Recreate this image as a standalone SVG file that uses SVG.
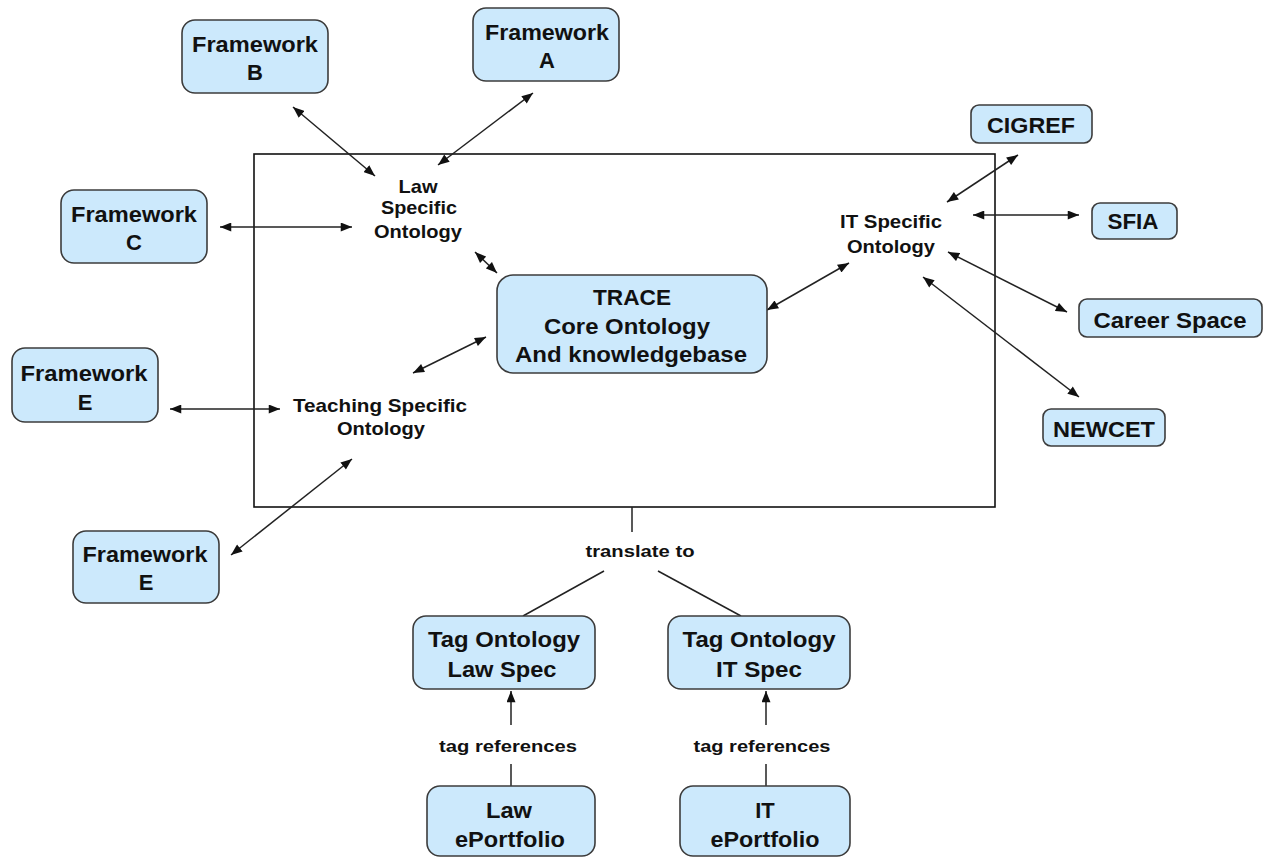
<svg xmlns="http://www.w3.org/2000/svg" width="1264" height="859" viewBox="0 0 1264 859">
<style>
.box{fill:#cce9fc;stroke:#3c3c3c;stroke-width:1.6}
.frame{fill:none;stroke:#111;stroke-width:1.6}
.t{font-family:"Liberation Sans",Arial,sans-serif;font-weight:bold;fill:#111;text-anchor:middle}
.bt{font-size:22px}
.it{font-size:19px}
.lt{font-size:17px}
.c line{stroke:#222;stroke-width:1.5}
.arr{marker-start:url(#ah);marker-end:url(#ah)}
.one{marker-end:url(#ah)}
</style>
<defs>
<marker id="ah" viewBox="0 0 10 8" refX="10" refY="4" markerWidth="12" markerHeight="9" markerUnits="userSpaceOnUse" orient="auto-start-reverse">
<path d="M0,0 L10,4 L0,8 z" fill="#111"/>
</marker>
</defs>
<rect width="1264" height="859" fill="#fff"/>
<rect id="core-frame" class="frame" x="254" y="154" width="741" height="353"/>

<g id="connectors" class="c">
<line class="arr" x1="293" y1="107" x2="375" y2="176"/>
<line class="arr" x1="533" y1="93" x2="438" y2="165"/>
<line class="arr" x1="220" y1="227" x2="352" y2="227"/>
<line class="arr" x1="475" y1="252" x2="497" y2="273"/>
<line class="arr" x1="413" y1="373" x2="486" y2="337"/>
<line class="arr" x1="170" y1="409" x2="280" y2="409"/>
<line class="arr" x1="231" y1="555" x2="352" y2="459"/>
<line class="arr" x1="767" y1="310" x2="849" y2="263"/>
<line class="arr" x1="1018" y1="155" x2="947" y2="202"/>
<line class="arr" x1="973" y1="215" x2="1079" y2="215"/>
<line class="arr" x1="948" y1="252" x2="1067" y2="312"/>
<line class="arr" x1="923" y1="277" x2="1079" y2="397"/>
<line x1="632" y1="507" x2="632" y2="532"/>
<line x1="604" y1="571" x2="523" y2="616"/>
<line x1="658" y1="571" x2="741" y2="616"/>
<line class="one" x1="511" y1="725" x2="511" y2="691"/>
<line x1="511" y1="764" x2="511" y2="786"/>
<line class="one" x1="766" y1="725" x2="766" y2="691"/>
<line x1="766" y1="764" x2="766" y2="786"/>
</g>

<g id="framework-b"><rect class="box" x="182" y="20" width="146" height="73" rx="13"/>
<text class="t bt" x="255" y="52" textLength="126" lengthAdjust="spacingAndGlyphs">Framework</text>
<text class="t bt" x="255" y="80">B</text></g>

<g id="framework-a"><rect class="box" x="473" y="8" width="146" height="73" rx="13"/>
<text class="t bt" x="547" y="40" textLength="124" lengthAdjust="spacingAndGlyphs">Framework</text>
<text class="t bt" x="547" y="68">A</text></g>

<g id="framework-c"><rect class="box" x="61" y="190" width="146" height="73" rx="13"/>
<text class="t bt" x="134" y="222" textLength="126" lengthAdjust="spacingAndGlyphs">Framework</text>
<text class="t bt" x="134" y="250">C</text></g>

<g id="framework-e1"><rect class="box" x="12" y="348" width="146" height="74" rx="13"/>
<text class="t bt" x="84" y="381" textLength="127" lengthAdjust="spacingAndGlyphs">Framework</text>
<text class="t bt" x="85" y="410">E</text></g>

<g id="framework-e2"><rect class="box" x="73" y="531" width="146" height="72" rx="13"/>
<text class="t bt" x="145" y="562" textLength="125" lengthAdjust="spacingAndGlyphs">Framework</text>
<text class="t bt" x="146" y="590">E</text></g>

<g id="law-ontology">
<text class="t it" x="418" y="193" textLength="39" lengthAdjust="spacingAndGlyphs">Law</text>
<text class="t it" x="419" y="214" textLength="76" lengthAdjust="spacingAndGlyphs">Specific</text>
<text class="t it" x="418" y="238" textLength="88" lengthAdjust="spacingAndGlyphs">Ontology</text>
</g>

<g id="teaching-ontology">
<text class="t it" x="380" y="412" textLength="174" lengthAdjust="spacingAndGlyphs">Teaching Specific</text>
<text class="t it" x="381" y="435" textLength="88" lengthAdjust="spacingAndGlyphs">Ontology</text>
</g>

<g id="it-ontology">
<text class="t it" x="891" y="228" textLength="102" lengthAdjust="spacingAndGlyphs">IT Specific</text>
<text class="t it" x="891" y="253" textLength="88" lengthAdjust="spacingAndGlyphs">Ontology</text>
</g>

<g id="trace"><rect class="box" x="497" y="275" width="270" height="98" rx="16"/>
<text class="t bt" x="632" y="305" textLength="78" lengthAdjust="spacingAndGlyphs">TRACE</text>
<text class="t bt" x="627" y="334" textLength="166" lengthAdjust="spacingAndGlyphs">Core Ontology</text>
<text class="t bt" x="631" y="362" textLength="232" lengthAdjust="spacingAndGlyphs">And knowledgebase</text></g>

<g id="cigref"><rect class="box" x="971" y="105" width="121" height="38" rx="8"/>
<text class="t bt" x="1031" y="133" textLength="88" lengthAdjust="spacingAndGlyphs">CIGREF</text></g>

<g id="sfia"><rect class="box" x="1092" y="203" width="85" height="36" rx="8"/>
<text class="t bt" x="1133" y="229" textLength="51" lengthAdjust="spacingAndGlyphs">SFIA</text></g>

<g id="career-space"><rect class="box" x="1079" y="299" width="183" height="38" rx="8"/>
<text class="t bt" x="1170" y="328" textLength="153" lengthAdjust="spacingAndGlyphs">Career Space</text></g>

<g id="newcet"><rect class="box" x="1043" y="409" width="122" height="37" rx="8"/>
<text class="t bt" x="1104" y="437" textLength="102" lengthAdjust="spacingAndGlyphs">NEWCET</text></g>

<g id="translate-label"><text class="t lt" x="640" y="557" textLength="109" lengthAdjust="spacingAndGlyphs">translate to</text></g>

<g id="tag-law"><rect class="box" x="413" y="616" width="182" height="73" rx="13"/>
<text class="t bt" x="504" y="647" textLength="152" lengthAdjust="spacingAndGlyphs">Tag Ontology</text>
<text class="t bt" x="502" y="677" textLength="109" lengthAdjust="spacingAndGlyphs">Law Spec</text></g>

<g id="tag-it"><rect class="box" x="668" y="616" width="182" height="73" rx="13"/>
<text class="t bt" x="759" y="647" textLength="153" lengthAdjust="spacingAndGlyphs">Tag Ontology</text>
<text class="t bt" x="759" y="677" textLength="86" lengthAdjust="spacingAndGlyphs">IT Spec</text></g>

<g id="tag-ref-law"><text class="t lt" x="508" y="752" textLength="138" lengthAdjust="spacingAndGlyphs">tag references</text></g>
<g id="tag-ref-it"><text class="t lt" x="762" y="752" textLength="137" lengthAdjust="spacingAndGlyphs">tag references</text></g>

<g id="law-eportfolio"><rect class="box" x="427" y="786" width="168" height="70" rx="13"/>
<text class="t bt" x="509" y="818" textLength="46" lengthAdjust="spacingAndGlyphs">Law</text>
<text class="t bt" x="510" y="847" textLength="110" lengthAdjust="spacingAndGlyphs">ePortfolio</text></g>

<g id="it-eportfolio"><rect class="box" x="680" y="786" width="170" height="70" rx="13"/>
<text class="t bt" x="765" y="818">IT</text>
<text class="t bt" x="765" y="847" textLength="109" lengthAdjust="spacingAndGlyphs">ePortfolio</text></g>
</svg>
